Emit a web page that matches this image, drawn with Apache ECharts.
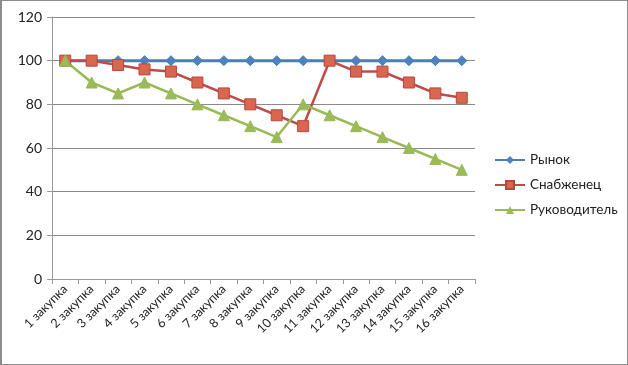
<!DOCTYPE html>
<html><head><meta charset="utf-8">
<script src="https://cdn.jsdelivr.net/npm/echarts@6/dist/echarts.min.js"></script>
<style>html,body{margin:0;padding:0;background:#fff}#c{width:628px;height:365px;box-sizing:border-box;border:1px solid #8c8c8c;border-left-width:2px}</style>
</head><body><div id="c"></div>
<script>
const categories = ["1 закупка","2 закупка","3 закупка","4 закупка","5 закупка","6 закупка","7 закупка","8 закупка","9 закупка","10 закупка","11 закупка","12 закупка","13 закупка","14 закупка","15 закупка","16 закупка"];
const rynok = [100,100,100,100,100,100,100,100,100,100,100,100,100,100,100,100];
const snabzhenets = [100,100,98,96,95,90,85,80,75,70,100,95,95,90,85,83];
const rukovoditel = [100,90,85,90,85,80,75,70,65,80,75,70,65,60,55,50];
const seriesNames = ["Рынок","Снабженец","Руководитель"];

const font = "Lato, 'Open Sans', sans-serif";
const chart = echarts.init(document.getElementById('c'));
chart.setOption({
  animation:false,
  textStyle:{fontFamily:font},
  grid:{left:50,right:152,top:16,bottom:85},
  legend:{
    orient:'vertical', left:487, top:147, itemGap:11, itemWidth:30, itemHeight:10,
    textStyle:{fontFamily:font,fontSize:13.5,color:'#222'},
    data:seriesNames
  },
  xAxis:{
    type:'category', data:categories, boundaryGap:true,
    axisLine:{lineStyle:{color:'#999'}},
    axisTick:{show:true,length:5,lineStyle:{color:'#999'},alignWithLabel:false},
    axisLabel:{rotate:45,fontSize:12.5,color:'#222',fontFamily:font,margin:8,interval:0}
  },
  yAxis:{
    type:'value', min:0, max:120, interval:20,
    axisLine:{show:true,lineStyle:{color:'#999'}},
    axisTick:{show:true,length:5,lineStyle:{color:'#999'}},
    splitLine:{lineStyle:{color:'#8a8a8a'}},
    axisLabel:{fontSize:14,color:'#222',fontFamily:font,margin:10}
  },
  series:[
    {name:seriesNames[0],type:'line',data:rynok,symbol:'diamond',symbolSize:10,
     lineStyle:{color:'#4a7ebb',width:3},itemStyle:{color:'#4f81bd',borderColor:'#4a7ebb'}},
    {name:seriesNames[1],type:'line',data:snabzhenets,symbol:'rect',symbolSize:11,
     lineStyle:{color:'#be4b48',width:2.5},itemStyle:{color:'#d9664f',borderColor:'#b8463f',borderWidth:1}},
    {name:seriesNames[2],type:'line',data:rukovoditel,symbol:'triangle',symbolSize:11,
     lineStyle:{color:'#98b954',width:2.5},itemStyle:{color:'#9bbb59',borderColor:'#98b954'}}
  ]
});
</script></body></html>
